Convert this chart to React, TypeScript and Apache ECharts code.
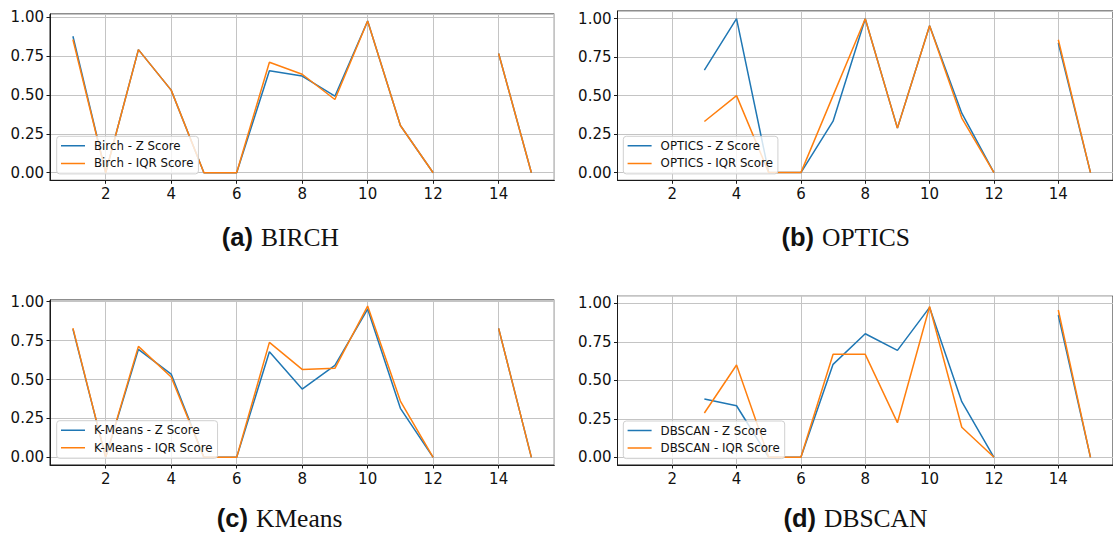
import React, { useEffect, useRef } from "react";
import * as echarts from "echarts";

const xs = [1, 2, 3, 4, 5, 6, 7, 8, 9, 10, 11, 12, 13, 14, 15];
const xTicks = [2, 4, 6, 8, 10, 12, 14];
const yTicks = [0, 0.25, 0.5, 0.75, 1.0];

const birchZ = [0.876, 0, 0.79, 0.53, 0, 0, 0.654, 0.62, 0.491, 0.974, 0.303, 0, null, 0.765, 0];
const birchIQR = [0.855, 0, 0.79, 0.53, 0, 0, 0.709, 0.632, 0.47, 0.974, 0.303, 0, null, 0.765, 0];
const opticsZ = [null, null, 0.666, 1.0, 0, 0, 0.334, 1.0, 0.289, 0.954, 0.386, 0, null, 0.842, 0];
const opticsIQR = [null, null, 0.332, 0.5, 0, 0, 0.5, 1.0, 0.289, 0.954, 0.354, 0, null, 0.863, 0];
const kmeansZ = [0.824, 0, 0.694, 0.535, 0, 0, 0.679, 0.439, 0.591, 0.953, 0.315, 0, null, 0.829, 0];
const kmeansIQR = [0.83, 0, 0.713, 0.516, 0, 0, 0.739, 0.565, 0.572, 0.972, 0.362, 0, null, 0.829, 0];
const dbscanZ = [null, null, 0.379, 0.335, 0, 0, 0.604, 0.803, 0.695, 0.974, 0.361, 0, null, 0.924, 0];
const dbscanIQR = [null, null, 0.288, 0.6, 0, 0, 0.669, 0.669, 0.225, 0.98, 0.195, 0, null, 0.957, 0];

const panels = [
  { tag: "(a)", title: "BIRCH", prefix: "Birch", z: birchZ, iqr: birchIQR },
  { tag: "(b)", title: "OPTICS", prefix: "OPTICS", z: opticsZ, iqr: opticsIQR },
  { tag: "(c)", title: "KMeans", prefix: "K-Means", z: kmeansZ, iqr: kmeansIQR },
  { tag: "(d)", title: "DBSCAN", prefix: "DBSCAN", z: dbscanZ, iqr: dbscanIQR },
];

// layout (pixels)
const grids = [
  { left: 50, top: 14, width: 504.3, height: 166.3 },
  { left: 617.5, top: 11, width: 504, height: 169.3 },
  { left: 50, top: 300, width: 504.3, height: 165 },
  { left: 617.5, top: 295.7, width: 504, height: 169.3 },
];
const yRanges = [
  [-0.0485, 1.0185],
  [-0.05, 1.05],
  [-0.049, 1.011],
  [-0.05, 1.05],
];
const legendPos = [
  { left: 56.7, top: 136.3 },
  { left: 623.3, top: 136.3 },
  { left: 56.7, top: 420.7 },
  { left: 623.3, top: 421 },
];
// [right edge of bold tag, left edge of serif title, vertical middle]
const captionPos = [
  [253, 261, 237],
  [814, 822, 237],
  [248, 256, 518],
  [816, 824, 518],
];

const BLUE = "#1f77b4";
const ORANGE = "#ff7f0e";
const GRID = "#c4c4c4";
const FONT = "DejaVu Sans";
const LINE_ICON = "path://M0,0L24,0Z M0,5.25L24,5.25L24,6.75L0,6.75Z M0,12L24,12Z";

export default function App() {
  const ref = useRef<HTMLDivElement>(null);
  useEffect(() => {
    if (!ref.current) return;
    const chart = echarts.init(ref.current, null, { renderer: "svg" });
    const grid: any[] = [];
    const xAxis: any[] = [];
    const yAxis: any[] = [];
    const series: any[] = [];
    const legend: any[] = [];
    const graphic: any[] = [];
    panels.forEach((p, i) => {
      grid.push({
        ...grids[i],
        show: true,
        borderColor: "#1a1a1a",
        borderWidth: 1,
        backgroundColor: "transparent",
        containLabel: false,
      });
      xAxis.push({
        type: "value",
        gridIndex: i,
        min: 0.3,
        max: 15.7,
        minInterval: 2,
        maxInterval: 2,
        axisLine: { show: true, onZero: false, lineStyle: { color: "#1a1a1a", width: 1 } },
        axisTick: { show: true, length: 3.5, lineStyle: { color: "#1a1a1a" } },
        splitLine: { show: true, lineStyle: { color: GRID, width: 1 } },
        axisLabel: {
          show: true,
          showMinLabel: false,
          showMaxLabel: false,
          margin: 6,
          fontFamily: FONT,
          fontSize: 15,
          color: "#111",
          formatter: (v: number) => (xTicks.includes(Math.round(v * 1000) / 1000) ? String(v) : ""),
        },
      });
      yAxis.push({
        type: "value",
        gridIndex: i,
        min: yRanges[i][0],
        max: yRanges[i][1],
        minInterval: 0.25,
        maxInterval: 0.25,
        axisLine: { show: true, onZero: false, lineStyle: { color: "#1a1a1a", width: 1 } },
        axisTick: { show: true, length: 3.5, lineStyle: { color: "#1a1a1a" } },
        splitLine: { show: true, lineStyle: { color: GRID, width: 1 } },
        axisLabel: {
          show: true,
          showMinLabel: false,
          showMaxLabel: false,
          margin: 6,
          fontFamily: FONT,
          fontSize: 15,
          color: "#111",
          formatter: (v: number) => {
            const r = Math.round(v * 1000) / 1000;
            return yTicks.includes(r) ? r.toFixed(2) : "";
          },
        },
      });
      const zName = `${p.prefix} - Z Score`;
      const iName = `${p.prefix} - IQR Score`;
      series.push({
        type: "line",
        name: zName,
        xAxisIndex: i,
        yAxisIndex: i,
        data: xs.map((x, k) => [x, p.z[k] == null ? "-" : p.z[k]]),
        symbol: "none",
        connectNulls: false,
        lineStyle: { color: BLUE, width: 1.5 },
        itemStyle: { color: BLUE },
        z: 2,
      });
      series.push({
        type: "line",
        name: iName,
        xAxisIndex: i,
        yAxisIndex: i,
        data: xs.map((x, k) => [x, p.iqr[k] == null ? "-" : p.iqr[k]]),
        symbol: "none",
        connectNulls: false,
        lineStyle: { color: ORANGE, width: 1.5 },
        itemStyle: { color: ORANGE },
        z: 3,
      });
      legend.push({
        data: [zName, iName],
        orient: "vertical",
        left: legendPos[i].left,
        top: legendPos[i].top,
        icon: LINE_ICON,
        backgroundColor: "rgba(255,255,255,0.8)",
        borderColor: "#d0d0d0",
        borderWidth: 1,
        borderRadius: 3,
        padding: [3.5, 5, 4.5, 4.3],
        itemWidth: 24,
        itemHeight: 12,
        itemGap: 5.6,
        selectedMode: false,
        textStyle: { fontFamily: FONT, fontSize: 11.8, color: "#111", padding: [0, 0, 0, 4] },
      });
      graphic.push({
        type: "text",
        x: captionPos[i][0],
        y: captionPos[i][2],
        style: {
          text: p.tag,
          align: "right",
          verticalAlign: "middle",
          fontFamily: "Liberation Sans",
          fontWeight: "bold",
          fontSize: 25.5,
          fill: "#111",
        },
      });
      graphic.push({
        type: "text",
        x: captionPos[i][1],
        y: captionPos[i][2],
        style: {
          text: p.title,
          align: "left",
          verticalAlign: "middle",
          fontFamily: "Liberation Serif",
          fontSize: 25.5,
          fill: "#111",
        },
      });
    });
    chart.setOption({
      animation: false,
      backgroundColor: "#ffffff",
      grid,
      xAxis,
      yAxis,
      series,
      legend,
      graphic,
    });
    return () => chart.dispose();
  }, []);
  return (
    <div
      ref={ref}
      style={{ position: "fixed", left: 0, top: 0, width: 1113, height: 533 }}
    />
  );
}
